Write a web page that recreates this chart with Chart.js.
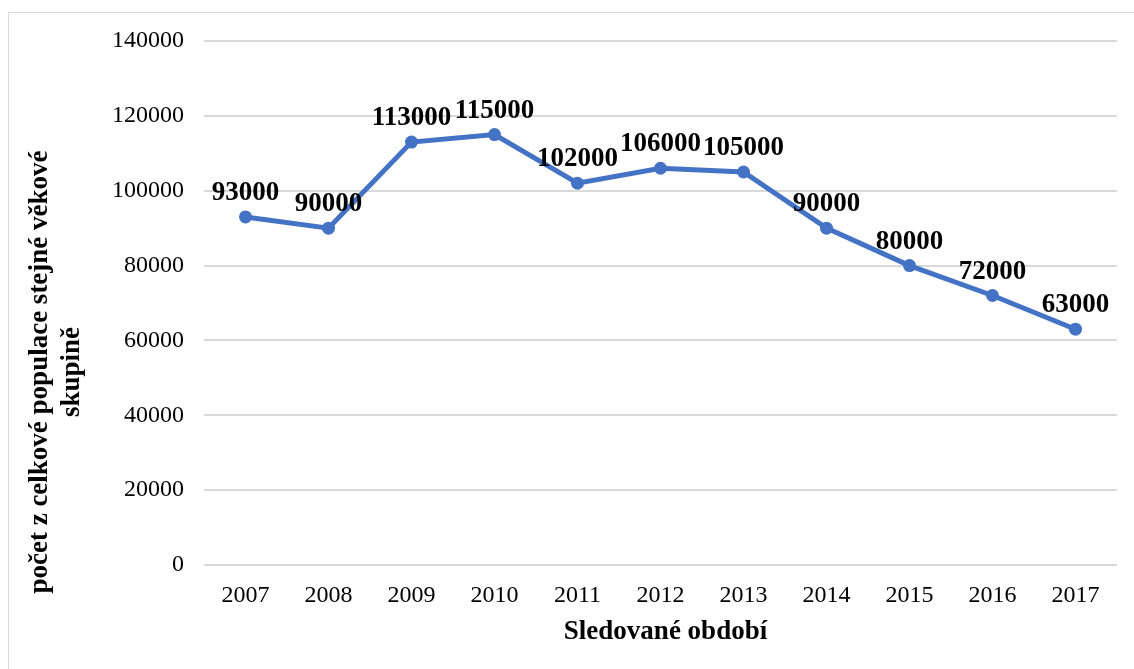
<!DOCTYPE html>
<html lang="cs">
<head>
    <meta charset="UTF-8">
    <title>Sledované období</title>
    <script src="https://cdn.jsdelivr.net/npm/chart.js"></script>
    <style>
        html, body { margin: 0; padding: 0; background: #fff; overflow: hidden; }
        #wrap { position: relative; width: 1134px; height: 669px; }
        #frame {
            position: absolute; left: 8px; top: 12px;
            width: 1300px; height: 800px;
            border: 1px solid #d9d9d9;
        }
        canvas { position: absolute; left: 0; top: 0; }
    </style>
</head>
<body>
<div id="wrap">
    <div id="frame"></div>
    <canvas id="lineChart" width="1134" height="669"></canvas>
</div>

<script>
    // data
    const years = ['2007', '2008', '2009', '2010', '2011', '2012', '2013', '2014', '2015', '2016', '2017'];
    const counts = [93000, 90000, 113000, 115000, 102000, 106000, 105000, 90000, 80000, 72000, 63000];
    const yTitleLines = ['počet z celkové populace stejné věkové', 'skupině'];
    const xTitle = 'Sledované období';

    const FONT = '"Liberation Serif", "Times New Roman", serif';
    const BLUE = '#4472C4';

    // value labels above points + axis titles drawn by hand
    const labelsPlugin = {
        id: 'labelsPlugin',
        afterDatasetsDraw(chart) {
            const ctx = chart.ctx;
            const meta = chart.getDatasetMeta(0);
            ctx.save();
            ctx.font = 'bold 27px ' + FONT;
            ctx.fillStyle = '#000';
            ctx.textAlign = 'center';
            ctx.textBaseline = 'alphabetic';
            meta.data.forEach(function (pt, i) {
                ctx.fillText(String(counts[i]), pt.x, pt.y - 17);
            });

            // x axis title
            const area = chart.chartArea;
            ctx.textBaseline = 'middle';
            ctx.fillText(xTitle, (area.left + area.right) / 2 + 5, 632);

            // y axis title, two lines rotated
            ctx.translate(0, 372);
            ctx.rotate(-Math.PI / 2);
            ctx.fillText(yTitleLines[0], 0, 40);
            ctx.fillText(yTitleLines[1], 0, 72);
            ctx.restore();
        }
    };

    function initializeChart() {
        const ctx = document.getElementById('lineChart').getContext('2d');
        window.myLine = new Chart(ctx, {
            type: 'line',
            data: {
                labels: years,
                datasets: [{
                    data: counts,
                    borderColor: BLUE,
                    backgroundColor: BLUE,
                    borderWidth: 5,
                    pointRadius: 6.5,
                    pointHoverRadius: 6.5,
                    pointBackgroundColor: BLUE,
                    pointBorderWidth: 0,
                    tension: 0
                }]
            },
            options: {
                responsive: false,
                animation: false,
                layout: { padding: { top: 41, right: 17, bottom: 0, left: 0 } },
                plugins: {
                    legend: { display: false },
                    tooltip: { enabled: false }
                },
                scales: {
                    x: {
                        offset: true,
                        grid: { display: false },
                        border: { display: false },
                        ticks: { color: '#000', font: { family: FONT, size: 24 }, padding: 8 },
                        afterFit: function (s) { s.height = 104; }
                    },
                    y: {
                        min: 0,
                        max: 140000,
                        ticks: {
                            stepSize: 20000,
                            color: '#000',
                            font: { family: FONT, size: 24 },
                            padding: 20,
                            callback: function (v) { return String(v); }
                        },
                        grid: { color: '#d9d9d9', lineWidth: 2, drawTicks: false },
                        border: { display: false },
                        afterFit: function (s) { s.width = 204; }
                    }
                }
            },
            plugins: [labelsPlugin]
        });
    }

    document.addEventListener('DOMContentLoaded', initializeChart);
</script>
</body>
</html>
